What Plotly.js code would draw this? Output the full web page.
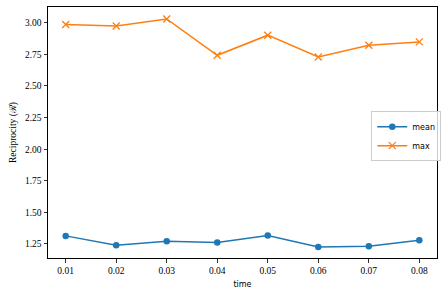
<!DOCTYPE html>
<html><head><meta charset="utf-8">
<script src="https://cdn.plot.ly/plotly-3.0.1.min.js"></script>
<style>html,body{margin:0;padding:0;background:#fff}#chart{width:448px;height:296px}</style>
</head><body><div id="chart"></div>
<script>
const time = [0.01, 0.02, 0.03, 0.04, 0.05, 0.06, 0.07, 0.08];
const meanVals = [1.314, 1.240, 1.271, 1.261, 1.317, 1.226, 1.232, 1.279];
const maxVals = [2.987, 2.974, 3.030, 2.743, 2.902, 2.730, 2.823, 2.849];
const xTicks = [0.01, 0.02, 0.03, 0.04, 0.05, 0.06, 0.07, 0.08];
const xTickText = ["0.01","0.02","0.03","0.04","0.05","0.06","0.07","0.08"];
const yTicks = [1.25, 1.50, 1.75, 2.00, 2.25, 2.50, 2.75, 3.00];
const yTickText = ["1.25","1.50","1.75","2.00","2.25","2.50","2.75","3.00"];

const serif = "Liberation Serif, DejaVu Serif, serif";
const traces = [
  {x: time, y: meanVals, name: "mean", mode: "lines+markers",
   line: {color: "#1f77b4", width: 1.5},
   marker: {symbol: "circle", size: 6.5, color: "#1f77b4"}},
  {x: time, y: maxVals, name: "max", mode: "lines+markers",
   line: {color: "#ff7f0e", width: 1.5},
   marker: {symbol: "x-thin-open", size: 7, color: "#ff7f0e", line: {color: "#ff7f0e", width: 1.3}}}
];
const layout = {
  width: 448, height: 296,
  margin: {l: 48, r: 9, t: 7, b: 38},
  paper_bgcolor: "#fff", plot_bgcolor: "#fff",
  showlegend: true,
  legend: {x: 0.831, y: 0.585, xanchor: "left", yanchor: "top",
    bgcolor: "rgba(255,255,255,0.8)", bordercolor: "#cccccc", borderwidth: 1,
    font: {family: "DejaVu Sans, sans-serif", size: 8, color: "#000"},
    itemwidth: 30, tracegroupgap: 0},
  xaxis: {range: [0.0065, 0.0835], tickvals: xTicks, ticktext: xTickText,
    showgrid: false, zeroline: false, showline: true, linecolor: "#000", linewidth: 1, mirror: true,
    ticks: "outside", ticklen: 3.5, tickwidth: 0.8, tickcolor: "#000",
    tickfont: {family: serif, size: 9.5, color: "#000"},
    title: {text: "time", font: {family: "DejaVu Sans, sans-serif", size: 8, color: "#000"}, standoff: 6}},
  yaxis: {range: [1.139, 3.125], tickvals: yTicks, ticktext: yTickText,
    showgrid: false, zeroline: false, showline: true, linecolor: "#000", linewidth: 1, mirror: true,
    ticks: "outside", ticklen: 3.5, tickwidth: 0.8, tickcolor: "#000",
    tickfont: {family: serif, size: 9.5, color: "#000"},
    title: {text: "Reciprocity (ℛ)", font: {family: serif, size: 9.5, color: "#000"}, standoff: 6}}
};
Plotly.newPlot("chart", traces, layout, {displayModeBar: false, staticPlot: true});
</script></body></html>
